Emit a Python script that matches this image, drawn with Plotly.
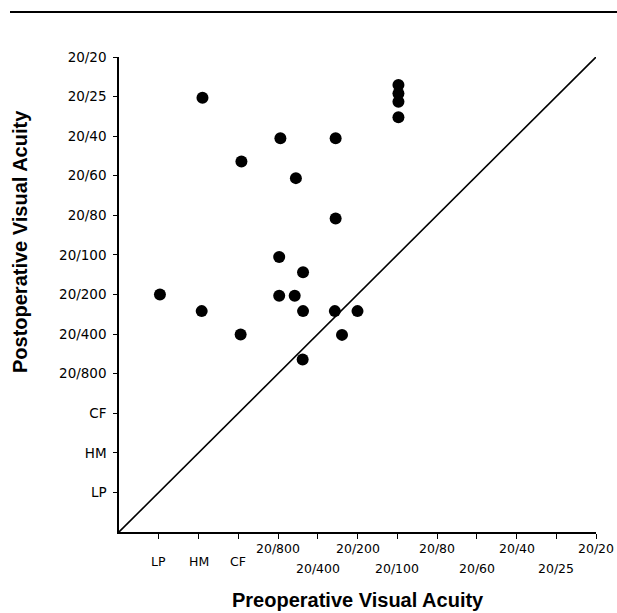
import plotly.graph_objects as go

# ---- data (positions in acuity-step units along each axis) ----
acuity_labels = ["LP", "HM", "CF", "20/800", "20/400", "20/200", "20/100",
                 "20/80", "20/60", "20/40", "20/25", "20/20"]
acuity_steps = [1, 2, 3, 4, 5, 6, 7, 8, 9, 10, 11, 12]
# row of the staggered x labels: 0 = LP/HM/CF row, 1 = upper, 2 = lower
x_label_row = [0, 0, 0, 1, 2, 1, 2, 1, 2, 1, 2, 1]

preop = [1.03, 2.10, 2.08, 3.08, 3.06, 4.06, 4.03, 4.03, 4.45, 4.42, 4.63,
         4.63, 4.62, 5.45, 5.45, 5.43, 5.61, 6.00, 7.03, 7.03, 7.03, 7.03]
postop = [6.00, 10.97, 5.58, 9.36, 4.99, 9.95, 6.95, 5.97, 8.94, 5.97, 6.56,
          5.58, 4.36, 9.95, 7.92, 5.58, 4.98, 5.58, 11.29, 11.08, 10.87, 10.48]

identity_line = [0, 12]

x_title = "Preoperative Visual Acuity"
y_title = "Postoperative Visual Acuity"

fig = go.Figure()

fig.add_trace(go.Scatter(x=identity_line, y=identity_line, mode="lines",
                         line=dict(color="black", width=1.6),
                         hoverinfo="skip", showlegend=False))
fig.add_trace(go.Scatter(x=preop, y=postop, mode="markers",
                         marker=dict(color="black", size=12, symbol="circle",
                                     line=dict(width=0)),
                         cliponaxis=False, showlegend=False))

row_shift = {0: -29, 1: -16, 2: -36}
for lab, xv, row in zip(acuity_labels, acuity_steps, x_label_row):
    fig.add_annotation(x=xv, y=0, xref="x", yref="y", text=lab,
                       showarrow=False, xanchor="center", yanchor="middle",
                       yshift=row_shift[row],
                       font=dict(family="DejaVu Sans", size=12.5, color="black"))

fig.add_annotation(x=0.5, y=-0.143, xref="paper", yref="paper", text=x_title,
                   showarrow=False, xanchor="center", yanchor="middle",
                   font=dict(family="Liberation Sans", size=20, color="black",
                             weight="bold"))
fig.add_annotation(x=-0.2075, y=0.6105, xref="paper", yref="paper", text=y_title,
                   showarrow=False, xanchor="center", yanchor="middle",
                   textangle=-90,
                   font=dict(family="Liberation Sans", size=20, color="black",
                             weight="bold"))

fig.add_shape(type="line", xref="paper", yref="paper",
              x0=-0.2285, x1=1.05, y0=1.0947, y1=1.0947,
              line=dict(color="black", width=2))

fig.update_xaxes(range=[0, 12], tickvals=acuity_steps, showticklabels=False,
                 ticks="outside", ticklen=5, tickwidth=1.3, tickcolor="black",
                 showline=True, linecolor="black", linewidth=1.5,
                 showgrid=False, zeroline=False)
fig.update_yaxes(range=[0, 12], tickvals=acuity_steps, ticktext=acuity_labels,
                 ticks="outside", ticklen=4, tickwidth=1.3, tickcolor="black",
                 ticklabelstandoff=4,
                 tickfont=dict(family="DejaVu Sans", size=13.5, color="black"),
                 showline=True, linecolor="black", linewidth=1.5,
                 showgrid=False, zeroline=False)

fig.update_layout(width=617, height=613,
                  margin=dict(l=119, r=21, t=57, b=81),
                  paper_bgcolor="white", plot_bgcolor="white",
                  showlegend=False)

fig.write_html("out.html")
